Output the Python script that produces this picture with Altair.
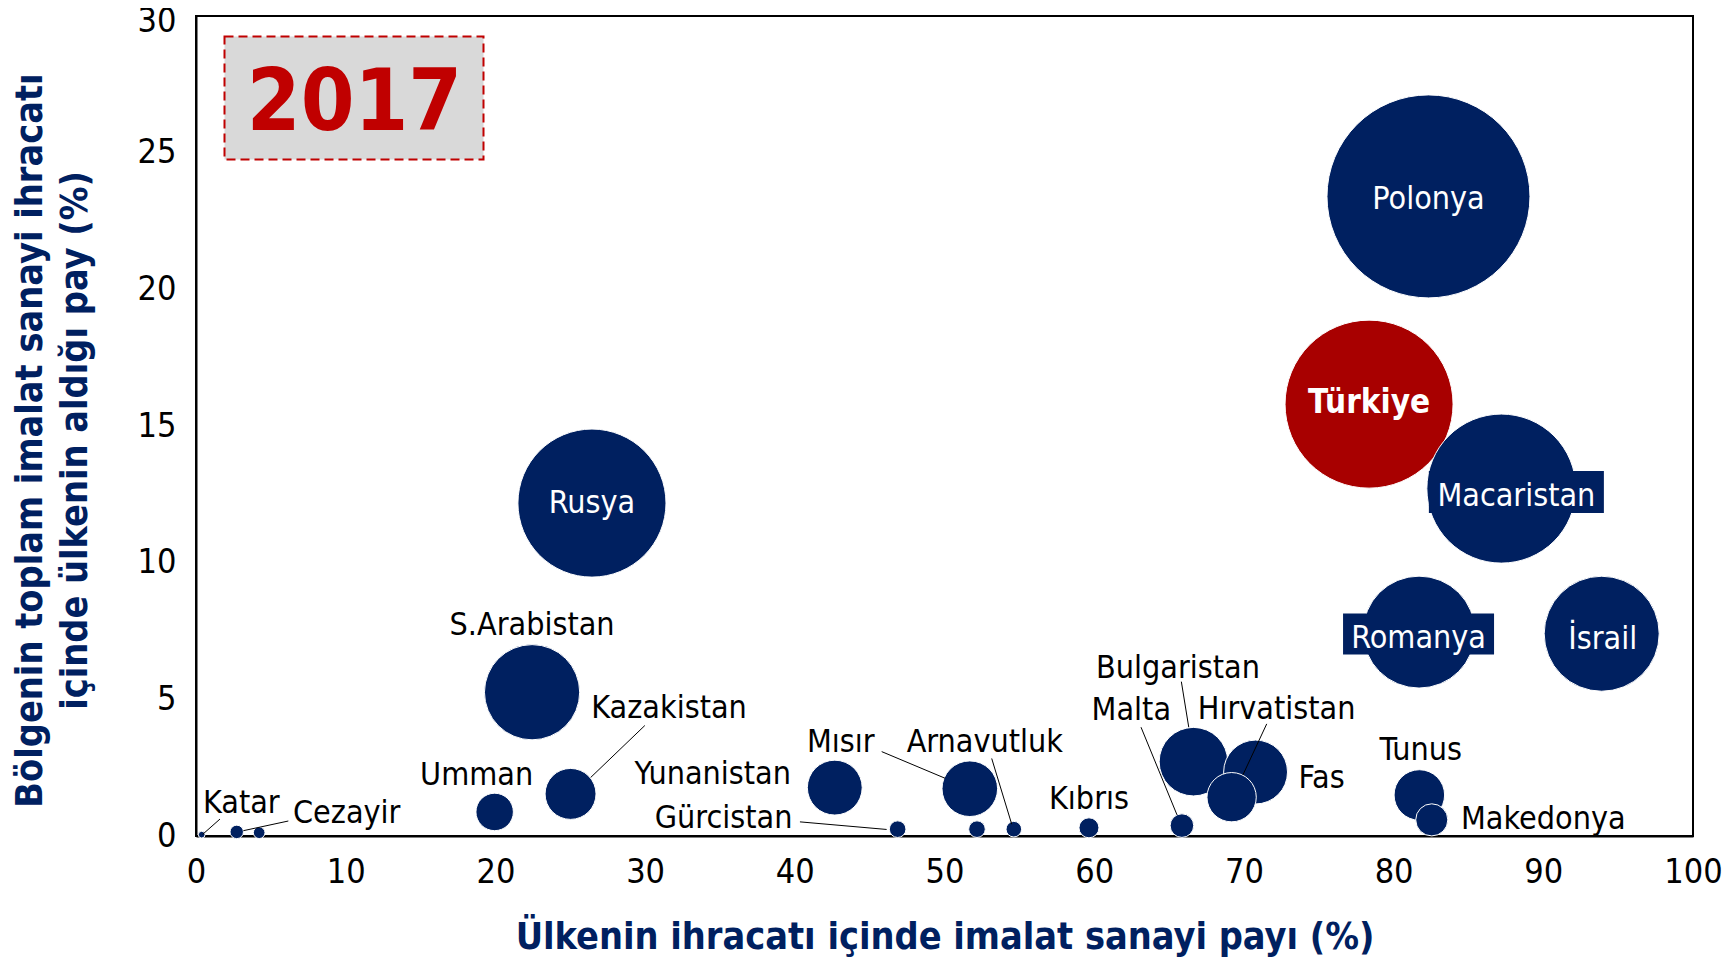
import altair as alt
import pandas as pd

# ---------------- data ----------------
countries = ["Polonya", "Türkiye", "Macaristan", "Rusya", "İsrail", "Romanya",
             "S.Arabistan", "Bulgaristan", "Fas", "Mısır", "Yunanistan",
             "Kazakistan", "Tunus", "Hırvatistan", "Umman", "Makedonya",
             "Malta", "Kıbrıs", "Gürcistan", "", "Arnavutluk", "Cezayir", "", "Katar"]
manuf_share_of_exports = [82.33, 78.36, 87.2, 26.45, 93.9, 81.7,
                          22.45, 66.63, 70.78, 51.69, 42.67,
                          25.02, 81.72, 69.18, 19.95, 82.55,
                          65.86, 59.65, 46.87, 52.17, 54.63, 2.72, 4.22, 0.38]
share_of_region = [23.4, 15.8, 12.71, 12.18, 7.4, 7.46,
                   5.26, 2.72, 2.34, 1.73, 1.77,
                   1.54, 1.5, 1.42, 0.88, 0.59,
                   0.38, 0.30, 0.25, 0.25, 0.25, 0.15, 0.12, 0.05]
bubble_value = [100, 68.5, 53.9, 53.2, 32.1, 30.4,
                22.0, 11.4, 9.9, 7.5, 7.3,
                6.3, 6.2, 5.9, 3.4, 2.5,
                1.35, 0.97, 0.67, 0.67, 0.59, 0.44, 0.33, 0.11]
x_ticks = list(range(0, 101, 10))
y_ticks = list(range(0, 31, 5))
year_label = "2017"
x_title = "Ülkenin ihracatı içinde imalat sanayi payı (%)"
y_title = ["Bölgenin toplam imalat sanayi ihracatı", "içinde ülkenin aldığı pay (%)"]

# ---------------- layout / style ----------------
W, H = 1497, 820
XMAX, YMAX = 100, 30
PX_X = W / XMAX
PX_Y = H / YMAX
NAVY = "#002060"
BUBBLE_RED = "#A80000"
RED = "#C00000"
FONT = "DejaVu Sans Condensed, DejaVu Sans"
MAX_R = 101.5

# label offsets from bubble centre, in pixels (dx, dy, kind)
LABEL_LAYOUT = {
    "Polonya": (0, 1, "in"), "Türkiye": (0, -3, "bold"), "Macaristan": (15, 5, "box"),
    "Rusya": (0, -2, "in"), "İsrail": (1, 3, "in"), "Romanya": (-0.5, 4, "box"),
    "S.Arabistan": (0, -69, "out"), "Bulgaristan": (-15.5, -96, "out"),
    "Fas": (66, 3.5, "out"), "Mısır": (-129, -49, "out"), "Yunanistan": (-122, -16, "out"),
    "Kazakistan": (98.5, -88, "out"), "Tunus": (1.4, -47, "out"),
    "Hırvatistan": (45, -90, "out"), "Umman": (-18, -39, "out"),
    "Makedonya": (111.5, -3, "out"), "Malta": (-50.6, -118, "out"),
    "Kıbrıs": (0, -31, "out"), "Gürcistan": (-174, -13, "out"),
    "Arnavutluk": (-29, -89, "out"), "Cezayir": (110, -20.5, "out"),
    "Katar": (39.6, -34, "out"),
}
# leader lines relative to bubble centre, pixels (x1, y1, x2, y2)
LEADERS = {
    "Katar": (18.3, -15.6, 1, -0.3),
    "Cezayir": (51.6, -10.9, 6.6, -1.2),
    "Kazakistan": (74.3, -68.4, 20.1, -16.4),
    "Gürcistan": (-97.7, -7.3, -11, 0.3),
    "Mısır": (-88.1, -37.1, -24.8, -10.5),
    "Arnavutluk": (-22.1, -70.7, -2.1, -5),
    "Malta": (-40.9, -98.4, -4.9, -10.7),
    "Bulgaristan": (-12.1, -80, -4.7, -34.4),
    "Hırvatistan": (35.1, -73.3, 11.3, -22.3),
}
# navy label boxes: (dx, dy, width, height) pixels
BOXES = {"Macaristan": (15, 3.5, 175, 42), "Romanya": (-0.5, 1.8, 151, 41)}

df = pd.DataFrame({"country": countries, "x": manuf_share_of_exports,
                   "y": share_of_region, "size": bubble_value})
df["group"] = ["tr" if c == "Türkiye" else "other" for c in countries]
df["order"] = list(range(len(df)))
pos = {c: (x, y) for c, x, y in zip(countries, manuf_share_of_exports, share_of_region) if c}

lab_rows = []
for c, (dx, dy, kind) in LABEL_LAYOUT.items():
    x, y = pos[c]
    lab_rows.append({"label": c, "lx": x + dx / PX_X, "ly": y - dy / PX_Y, "kind": kind})
labels = pd.DataFrame(lab_rows)

lead_rows = []
for c, (x1, y1, x2, y2) in LEADERS.items():
    x, y = pos[c]
    lead_rows.append({"x1": x + x1 / PX_X, "y1": y - y1 / PX_Y,
                      "x2": x + x2 / PX_X, "y2": y - y2 / PX_Y})
leaders = pd.DataFrame(lead_rows)

box_rows = []
for c, (dx, dy, w, h) in BOXES.items():
    x, y = pos[c]
    cx, cy = x + dx / PX_X, y - dy / PX_Y
    box_rows.append({"bx1": cx - w / 2 / PX_X, "bx2": cx + w / 2 / PX_X,
                     "by1": cy - h / 2 / PX_Y, "by2": cy + h / 2 / PX_Y})
boxes = pd.DataFrame(box_rows)

xs = alt.Scale(domain=[0, XMAX], nice=False, zero=True)
ys = alt.Scale(domain=[0, YMAX], nice=False, zero=True)
X_AXIS = alt.Axis(values=x_ticks, labelPadding=19, labelFlush=False, titleY=101,
                  titleX=W / 2, titleBaseline="middle", titleAlign="center",
                  titleFontSize=37.5)
Y_AXIS = alt.Axis(values=y_ticks, labelPadding=20, labelFlush=False,
                  labelOffset={"condition": {"test": "datum.value == 30", "value": 5},
                               "value": 0},
                  titleX=-166, titleY=424,
                  titleBaseline="middle", titleAlign="center", titleFontSize=37.5,
                  titleLineHeight=45, titleAngle=270)


def X(field):
    return alt.X(field, scale=xs, axis=X_AXIS, title=x_title)


def Y(field):
    return alt.Y(field, scale=ys, axis=Y_AXIS, title=y_title)


bubbles = alt.Chart(df).mark_circle(opacity=1, stroke="white", strokeWidth=1).encode(
    x=X("x:Q"), y=Y("y:Q"),
    size=alt.Size("size:Q", scale=alt.Scale(domain=[0, 100], range=[0, 4 * MAX_R ** 2]),
                  legend=None),
    color=alt.Color("group:N", scale=alt.Scale(domain=["tr", "other"],
                                               range=[BUBBLE_RED, NAVY]), legend=None),
    order=alt.Order("order:Q"),
)

lead_layer = alt.Chart(leaders).mark_rule(color="black", strokeWidth=1).encode(
    x=X("x1:Q"), x2="x2:Q", y=Y("y1:Q"), y2="y2:Q")

box_layer = alt.Chart(boxes).mark_rect(color=NAVY).encode(
    x=X("bx1:Q"), x2="bx2:Q", y=Y("by1:Q"), y2="by2:Q")


def text_layer(kinds, color, weight, size):
    return alt.Chart(labels).transform_filter(
        alt.FieldOneOfPredicate(field="kind", oneOf=kinds)
    ).mark_text(font=FONT, fontSize=size, fontWeight=weight, color=color,
                align="center", baseline="middle", dy=2).encode(
        x=X("lx:Q"), y=Y("ly:Q"), text="label:N")


out_text = text_layer(["out"], "black", "normal", 32)
in_text = text_layer(["in", "box"], "white", "normal", 32)
bold_text = text_layer(["bold"], "white", "bold", 33)

year_df = pd.DataFrame({"t": [year_label]})
year_box = alt.Chart(year_df).mark_rect(
    fill="#D9D9D9", stroke=RED, strokeWidth=2, strokeDash=[9, 5]).encode(
    x=alt.value(28.5), x2=alt.value(287.5), y=alt.value(20.5), y2=alt.value(143.5))
year_text = alt.Chart(year_df).mark_text(
    font=FONT, fontSize=86, fontWeight="bold", color=RED, align="center",
    baseline="middle", dy=4).encode(x=alt.value(158.5), y=alt.value(83.5), text="t:N")

chart = alt.layer(
    bubbles, lead_layer, box_layer, out_text, in_text, bold_text, year_box, year_text
).properties(
    width=W, height=H,
    autosize=alt.AutoSizeParams(type="none"),
    padding={"left": 188, "top": 8, "right": 32, "bottom": 121},
).configure_view(
    stroke="black", strokeWidth=2
).configure_axis(
    grid=False, ticks=False, domainColor="black", domainWidth=2,
    labelFont=FONT, labelFontSize=34, labelColor="black",
    titleFont=FONT, titleFontWeight="bold", titleColor=NAVY, zindex=1
)

chart.save("out.html", embed_options={"renderer": "svg", "actions": False})
